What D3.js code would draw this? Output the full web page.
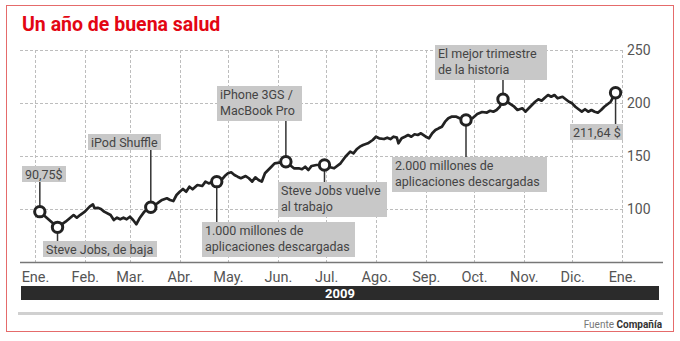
<!DOCTYPE html>
<html><head><meta charset="utf-8">
<script src="https://cdn.jsdelivr.net/npm/d3@7"></script>
<style>
html,body{margin:0;padding:0;background:#fff;}
svg{display:block;font-family:Roboto, "Noto Sans", sans-serif;}
</style></head>
<body><svg id="c" width="680" height="341"></svg>
<script>
// Day of year (0 = 1 Jan 2009) and closing price ($)
const days = [3,14,19,24,26,28,31,34,36,37,39,41,43,47,49,51,53,55,57,59,61,63,65,68,72,76,79,82,84,86,88,90,92,94,96,98,101,104,106,108,110,113,116,118,120,122,124,126,128,131,133,135,137,139,141,143,145,147,149,152,156,161,164,166,168,170,172,175,180,183,186,190,193,196,198,200,202,204,207,210,212,214,217,219,221,223,225,226,228,230,232,234,236,238,240,243,245,247,249,251,253,255,257,259,262,264,268,272,275,278,281,283,285,287,289,291,295,298,300,303,305,307,309,311,313,315,317,319,321,323,325,328,330,332,334,336,338,340,342,344,346,348,350,352,354,358,361];
const prices = [97.5,82.7,88.0,94.3,91.8,94.3,97.5,102.2,104.4,100.7,101.2,100.0,97.5,94.3,89.6,91.8,90.3,91.8,90.3,92.7,89.6,85.6,91.2,97.5,101.6,105.4,108.5,110.1,108.5,107.5,113.2,116.3,118.9,116.3,121.0,118.6,122.6,121.7,125.8,124.2,125.2,125.8,127.4,131.1,133.7,134.6,132.1,130.5,129.0,131.1,129.0,125.8,129.9,127.4,125.8,133.7,136.8,139.9,143.1,143.7,144.6,138.4,138.4,137.5,139.9,136.8,140.6,141.5,141.5,139.6,138.4,143.1,149.3,154.1,152.5,156.3,158.8,160.4,162.0,165.1,168.2,166.7,166.0,167.3,166.0,168.2,167.3,162.0,166.7,168.2,169.8,168.2,170.5,169.8,171.4,168.2,166.7,171.4,174.5,176.1,177.6,182.4,185.6,187.1,187.1,185.6,184.0,185.6,189.6,191.5,191.0,192.7,191.8,193.4,196.5,203.5,199.7,196.5,193.4,195.0,191.8,195.0,198.1,201.2,203.5,202.2,205.0,207.5,205.9,207.5,204.4,205.9,203.5,201.2,199.7,196.5,194.1,191.8,194.1,191.8,193.4,191.8,190.8,193.4,196.5,201.2,209.7];

const monthLabels = ["Ene.","Feb.","Mar.","Abr.","May.","Jun.","Jul.","Ago.","Sep.","Oct.","Nov.","Dic.","Ene."];
const yTicks = [100,150,200,250];
const eventDays = [3,14,72,113,156,180,268,291,361];
const eventLabels = [["90,75$"],["Steve Jobs, de baja"],["iPod Shuffle"],["1.000 millones de","aplicaciones descargadas"],["iPhone 3GS /","MacBook Pro"],["Steve Jobs vuelve","al trabajo"],["2.000 millones de","aplicaciones descargadas"],["El mejor trimestre","de la historia"],["211,64 $"]];
const title = "Un año de buena salud";
const yearLabel = "2009";

// layout of annotation boxes (pixels)
const boxLayout = [
 {x:22,y:166,w:44},{x:43,y:241,w:114},{x:88,y:134,w:73},{x:202,y:222,w:153},
 {x:217,y:86,w:85},{x:278,y:182,w:109},{x:392,y:157,w:155},{x:435,y:45,w:112},{x:570,y:124,w:53}
];

const svg = d3.select("#c");
const start = new Date(2009,0,1), end = new Date(2010,0,1);
const x = d3.scaleTime().domain([start,end]).range([35,622]);
const y = d3.scaleLinear().domain([50,250]).range([262,50]);
const dateOf = d => d3.timeDay.offset(start, d);
const data = days.map((d,i)=>({date:dateOf(d), v:prices[i], day:d}));

// border
svg.append("rect").attr("x",6.5).attr("y",5.5).attr("width",667).attr("height",326)
  .attr("fill","none").attr("stroke","#e56b6b").attr("stroke-width",1);

// title
svg.append("text").attr("x",22).attr("y",31).attr("fill","#e30613")
  .attr("font-weight",700).attr("font-size",19.5).text(title);

// grid
const g = svg.append("g");
const months = d3.timeMonth.range(start, d3.timeDay.offset(end,1));
g.selectAll("line.v").data(months).join("line")
  .attr("x1",d=>Math.round(x(d))+0.5).attr("x2",d=>Math.round(x(d))+0.5).attr("y1",y(250)).attr("y2",y(50))
  .attr("stroke","#bdbdbd").attr("stroke-dasharray","3,2").attr("stroke-width",1);
g.selectAll("line.h").data(yTicks).join("line")
  .attr("x1",20).attr("x2",623).attr("y1",d=>Math.round(y(d))+0.5).attr("y2",d=>Math.round(y(d))+0.5)
  .attr("stroke","#bdbdbd").attr("stroke-dasharray","3,2").attr("stroke-width",1);

// y axis labels
const yAxis = d3.axisRight(y).tickValues(yTicks).tickSize(0).tickPadding(0);
const ya = svg.append("g").attr("transform","translate(627,0)").call(yAxis);
ya.select(".domain").remove();
ya.selectAll("text").attr("font-size",14).attr("fill","#555").attr("font-family","Roboto");

// x axis
const xAxis = d3.axisBottom(x).tickValues(months).tickSize(0).tickPadding(0)
  .tickFormat((d,i)=>monthLabels[i]);
const xa = svg.append("g").attr("transform","translate(0,262)").call(xAxis);
xa.select(".domain").remove();
xa.selectAll("text").attr("font-size",14.5).attr("fill","#555").attr("font-family","Roboto").attr("dy",0).attr("y",20);
svg.append("line").attr("x1",20).attr("x2",663).attr("y1",262.5).attr("y2",262.5)
  .attr("stroke","#777").attr("stroke-width",1.5);

// year bar
svg.append("rect").attr("x",21).attr("y",286).attr("width",638).attr("height",14).attr("fill","#2b2b2b");
svg.append("text").attr("x",340).attr("y",298).attr("text-anchor","middle").attr("fill","#fff")
  .attr("font-weight",700).attr("font-size",13).text(yearLabel);
svg.append("line").attr("x1",18).attr("x2",663).attr("y1",313.5).attr("y2",313.5)
  .attr("stroke","#d0d0d0").attr("stroke-width",3);
const src = svg.append("text").attr("x",662).attr("y",328).attr("text-anchor","end").attr("font-size",10);
src.append("tspan").attr("fill","#777").text("Fuente ");
src.append("tspan").attr("fill","#333").attr("font-weight",700).text("Compañía");

// annotations
const events = eventDays.map((d,i)=>{
  const p = data.find(e=>e.day===d);
  return {p, lines:eventLabels[i], box:boxLayout[i]};
});
const ann = svg.append("g");
events.forEach(ev=>{
  const b = ev.box, h = ev.lines.length===1 ? 16 : 35;
  const cx = x(ev.p.date), cy = y(ev.p.v);
  const ty = (b.y > cy) ? b.y : b.y + h;
  ann.append("line").attr("x1",cx).attr("x2",cx).attr("y1",cy).attr("y2",ty)
    .attr("stroke","#333").attr("stroke-width",1.5);
  ann.append("rect").attr("x",b.x).attr("y",b.y).attr("width",b.w).attr("height",h).attr("fill","#c8c8c8");
  const t = ann.append("text").attr("x",b.x+3).attr("y",b.y+13).attr("font-size",12.5).attr("fill","#444");
  ev.lines.forEach((l,i)=>t.append("tspan").attr("x",b.x+3).attr("dy",i?16:0).text(l));
});

// line
svg.append("path").datum(data)
  .attr("d", d3.line().x(d=>x(d.date)).y(d=>y(d.v)))
  .attr("fill","none").attr("stroke","#222").attr("stroke-width",2.7).attr("stroke-linejoin","round");

// circles
svg.selectAll("circle.ev").data(events).join("circle")
  .attr("cx",d=>x(d.p.date)).attr("cy",d=>y(d.p.v)).attr("r",5.2)
  .attr("fill","#fff").attr("stroke","#222").attr("stroke-width",3);
</script></body></html>
